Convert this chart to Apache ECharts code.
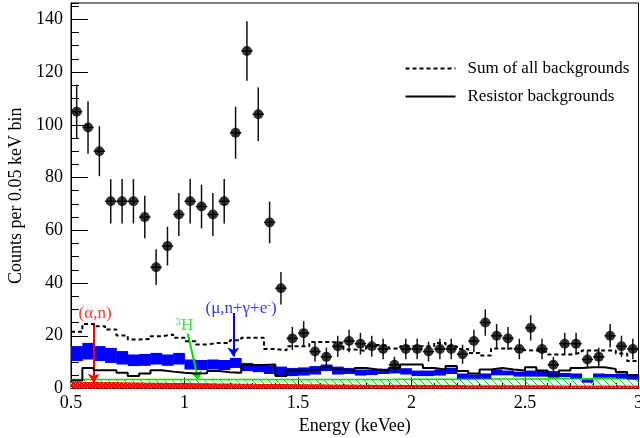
<!DOCTYPE html>
<html>
<head>
<meta charset="utf-8">
<script src="https://cdn.jsdelivr.net/npm/echarts@6/dist/echarts.min.js"></script>
<style>
html, body { margin: 0; padding: 0; background: #fff; }
#chart { width: 640px; height: 438px; }
</style>
</head>
<body>
<div id="chart"></div>
<script>
// Binning: 50 bins of 0.05 keVee from 0.5 to 3.0
const binStart = 0.5;
const binWidth = 0.05;

// Observed counts per bin
const counts = [105, 99, 90, 71, 71, 71, 65, 46, 54, 66,
                71, 69, 66, 71, 97, 128, 104, 63, 38, 19,
                21, 14, 12, 16, 18, 17, 16, 15, 9, 15,
                15, 14, 15, 15, 13, 18, 25, 20, 19, 15,
                23, 15, 9, 17, 17, 11, 12, 20, 16, 15];

// Sum of all backgrounds
const sumBackgrounds = [21.5, 24.5, 23.6, 22.4, 20.1, 18.6, 18.8, 19.8, 20.5, 19.2,
                        17.9, 16.7, 17.3, 17.3, 18.3, 19.2, 19.2, 15.0, 14.5, 16.0,
                        16.0, 17.6, 17.6, 17.3, 14.8, 14.2, 16.5, 16.3, 15.2, 16.0,
                        16.0, 16.0, 17.3, 16.0, 15.0, 13.5, 12.5, 15.2, 15.2, 14.5,
                        14.4, 13.9, 12.9, 12.9, 13.6, 14.4, 14.4, 14.4, 13.3, 10.4];

// Resistor backgrounds
const resistorBackgrounds = [3.0, 7.8, 6.9, 6.9, 6.0, 4.7, 5.7, 6.9, 6.4, 6.0,
                             5.7, 5.8, 6.6, 6.2, 6.0, 8.9, 8.9, 9.1, 4.7, 6.8,
                             6.8, 7.2, 8.1, 7.2, 6.8, 7.8, 7.2, 6.8, 7.8, 9.1,
                             9.1, 7.8, 7.2, 8.5, 6.6, 5.7, 7.2, 7.8, 7.2, 6.8,
                             8.1, 6.8, 4.9, 6.8, 7.8, 8.1, 8.1, 7.4, 6.3, 4.9];

// (mu,n + gamma + e-) band: lower and upper edges
const muBandLow = [10.4, 11.0, 10.4, 9.7, 9.1, 8.5, 8.6, 9.1, 8.6, 9.1,
                   7.2, 7.0, 7.2, 7.0, 7.8, 6.6, 6.2, 5.5, 5.1, 4.7,
                   4.9, 5.3, 6.6, 5.3, 5.5, 4.9, 5.1, 5.5, 5.7, 5.3,
                   4.7, 4.7, 4.9, 5.5, 3.7, 3.7, 3.7, 5.0, 5.0, 4.5,
                   4.5, 4.5, 4.1, 4.3, 3.8, 2.2, 4.1, 4.1, 3.8, 3.4];
const muBandHigh = [16.1, 17.3, 16.1, 15.4, 14.2, 12.9, 13.1, 13.5, 12.9, 13.5,
                    11.0, 10.8, 11.0, 10.8, 11.6, 9.7, 9.3, 8.7, 8.3, 7.8,
                    8.0, 8.5, 9.1, 8.3, 7.8, 7.2, 7.2, 7.5, 7.9, 7.7,
                    6.8, 6.8, 7.2, 7.9, 5.7, 5.3, 5.7, 7.2, 6.8, 6.4,
                    6.8, 6.6, 6.6, 5.9, 5.7, 3.4, 5.7, 5.5, 5.7, 5.5];

// (alpha,n) contribution and the 3H level drawn on top of it
const alphaN = [2.3, 2.3, 2.2, 2.2, 2.1, 2.1, 2.0, 2.0, 1.9, 1.9,
                1.8, 1.8, 1.7, 1.7, 1.6, 1.6, 1.5, 1.5, 1.5, 1.4,
                1.4, 1.4, 1.3, 1.3, 1.3, 1.2, 1.2, 1.2, 1.2, 1.1,
                1.1, 1.1, 1.1, 1.1, 1.0, 1.0, 1.0, 1.0, 1.0, 1.0,
                1.0, 1.0, 0.9, 0.9, 0.9, 0.9, 0.9, 0.9, 0.9, 0.9];
const tritiumTop = [3.4, 3.4, 3.4, 3.4, 3.4, 3.4, 3.4, 3.4, 3.4, 3.4,
                    3.4, 3.4, 3.4, 3.4, 3.4, 3.4, 3.4, 3.4, 3.4, 3.4,
                    3.4, 3.4, 3.4, 3.4, 3.4, 3.4, 3.4, 3.4, 3.5, 3.5,
                    3.5, 3.5, 3.5, 3.5, 3.5, 3.6, 3.6, 3.6, 3.6, 3.6,
                    3.6, 3.6, 3.7, 3.7, 3.7, 3.7, 3.7, 3.7, 3.7, 3.7];

// Axis ticks
const xTickStep = 0.5;
const yTickStep = 20;
const yMinorStep = 5;

// Legend entries
const legendEntries = [
  { text: 'Sum of all backgrounds', dash: [4, 3] },
  { text: 'Resistor backgrounds', dash: null }
];

// Annotation labels and arrows (data coordinates)
const annotations = [
  { name: 'alpha', pos: [0.606, 28.3], arrow: [[0.6, 24.8], [0.6, 2.2]], color: '#ff0000' },
  { name: 'tritium', pos: [1.0, 23.9], arrow: [[1.014, 20.9], [1.061, 3.2]], color: '#00e000' },
  { name: 'mu', pos: [1.249, 30.5], arrow: [[1.215, 28.6], [1.215, 12.1]], color: '#0000ff' }
];

const SERIF = 'Liberation Serif';
const edge = i => +(binStart + i * binWidth).toFixed(4);
const centre = i => +(binStart + (i + 0.5) * binWidth).toFixed(4);

function steps(arr) {
  const d = arr.map((v, i) => [edge(i), v]);
  d.push([edge(arr.length), arr[arr.length - 1]]);
  return d;
}
function bands(lo, hi) {
  return lo.map((v, i) => [edge(i), edge(i + 1), v, hi[i]]);
}
function pattern(w, h, draw) {
  const c = document.createElement('canvas');
  c.width = w; c.height = h;
  draw(c.getContext('2d'));
  return { image: c, repeat: 'repeat' };
}
const redChecker = pattern(4, 4, g => {
  g.fillStyle = '#ff0000'; g.fillRect(0, 0, 4, 4);
  g.fillStyle = '#ffffff'; g.fillRect(1, 1, 1, 1); g.fillRect(3, 3, 1, 1);
});
const greenHatch = pattern(8, 8, g => {
  g.fillStyle = '#00e000';
  for (let k = 0; k < 8; k++) g.fillRect(k, k, 1, 1);
});

function bandRenderer(fill) {
  return (params, api) => {
    const a = api.coord([api.value(0), api.value(3)]);
    const b = api.coord([api.value(1), api.value(2)]);
    return {
      type: 'rect',
      shape: { x: a[0], y: a[1], width: b[0] - a[0] + 0.4, height: b[1] - a[1] },
      style: { fill: fill }
    };
  };
}

// Data points with Poisson error bars and bin-width horizontal bars
function errorBarRenderer(params, api) {
  const x = api.value(0), y = api.value(1), e = Math.sqrt(y), hw = binWidth / 2;
  const top = api.coord([x, y + e]), bot = api.coord([x, y - e]);
  const l = api.coord([x - hw, y]), r = api.coord([x + hw, y]);
  return {
    type: 'group',
    children: [
      { type: 'line', shape: { x1: top[0], y1: top[1], x2: bot[0], y2: bot[1] }, style: { stroke: '#111', lineWidth: 1.5 } },
      { type: 'line', shape: { x1: l[0], y1: l[1], x2: r[0], y2: r[1] }, style: { stroke: '#111', lineWidth: 1.5 } }
    ]
  };
}

const labelText = {
  alpha: '{t|(\u03b1,n)}',
  tritium: '{s|3}{t|H}',
  mu: '{t|(\u03bc,n+\u03b3+e}{s|-}{t|)}'
};

// Legend drawn as graphic: line sample followed by its text
const legendGraphic = {
  type: 'group', left: 403, top: 60,
  children: legendEntries.flatMap((e, i) => [
    {
      type: 'line', shape: { x1: 0, y1: 10 + 28 * i, x2: 50, y2: 10 + 28 * i },
      style: { stroke: '#000', lineWidth: 2, lineDash: e.dash }
    },
    {
      type: 'text', x: 62, y: 10 + 28 * i,
      style: { text: e.text, fontFamily: SERIF, fontSize: 17, fill: '#000', verticalAlign: 'middle' }
    }
  ])
};

const chart = echarts.init(document.getElementById('chart'), null, { renderer: 'canvas' });

const yBase = {
  type: 'value', min: 0, max: 146.2, position: 'left',
  splitLine: { show: false }
};

chart.setOption({
  animation: false,
  backgroundColor: '#fff',
  grid: {
    left: 71, right: 1.5, top: 3, bottom: 49.5,
    show: true, borderColor: '#000', borderWidth: 1,
    containLabel: false, outerBoundsMode: 'none'
  },
  graphic: [legendGraphic],
  xAxis: {
    type: 'value', min: 0.5, max: 3, interval: xTickStep,
    axisLine: { show: true, lineStyle: { color: '#000', width: 1 } },
    axisTick: { show: true, inside: true, length: 11, lineStyle: { color: '#000' } },
    minorTick: { show: true, splitNumber: 5, length: 5.5, lineStyle: { color: '#000' } },
    splitLine: { show: false },
    axisLabel: { fontFamily: SERIF, fontSize: 18, color: '#000', margin: 6 },
    name: 'Energy (keVee)', nameLocation: 'middle', nameGap: 27,
    nameTextStyle: { fontFamily: SERIF, fontSize: 18, color: '#000' }
  },
  yAxis: [
    Object.assign({}, yBase, {
      interval: yTickStep,
      axisLine: { show: true, lineStyle: { color: '#000', width: 1 } },
      axisTick: { show: true, inside: true, length: 17, lineStyle: { color: '#000' } },
      axisLabel: { fontFamily: SERIF, fontSize: 18, color: '#000', margin: 8, showMaxLabel: false },
      name: 'Counts per 0.05 keV bin', nameLocation: 'middle', nameGap: 44,
      nameTextStyle: { fontFamily: SERIF, fontSize: 18, color: '#000' }
    }),
    Object.assign({}, yBase, {
      interval: yMinorStep, offset: 0,
      axisLine: { show: false },
      axisTick: { show: true, inside: true, length: 8, lineStyle: { color: '#000' } },
      axisLabel: { show: false }
    })
  ],
  series: [
    {
      name: 'alphaN', type: 'custom', renderItem: bandRenderer(redChecker),
      data: bands(alphaN.map(() => 0), alphaN), encode: { x: [0, 1], y: [2, 3] }, z: 1, silent: true
    },
    {
      name: 'tritium', type: 'custom', renderItem: bandRenderer(greenHatch),
      data: bands(alphaN, tritiumTop), encode: { x: [0, 1], y: [2, 3] }, z: 2, silent: true
    },
    {
      name: 'alphaNEdge', type: 'line', step: 'end', data: steps(alphaN), symbol: 'none',
      lineStyle: { color: '#ff0000', width: 1 }, z: 3, silent: true
    },
    {
      name: 'tritiumEdge', type: 'line', step: 'end', data: steps(tritiumTop), symbol: 'none',
      lineStyle: { color: '#00e000', width: 1.5 }, z: 3, silent: true
    },
    {
      name: 'muBand', type: 'custom', renderItem: bandRenderer('#0000ff'),
      data: bands(muBandLow, muBandHigh), encode: { x: [0, 1], y: [2, 3] }, z: 4, silent: true
    },
    {
      name: 'Resistor backgrounds', type: 'line', step: 'end', data: steps(resistorBackgrounds),
      symbol: 'none', lineStyle: { color: '#000', width: 2 }, z: 5, silent: true
    },
    {
      name: 'Sum of all backgrounds', type: 'line', step: 'end', data: steps(sumBackgrounds),
      symbol: 'none', lineStyle: { color: '#000', width: 2, type: [4, 3] }, z: 6, silent: true
    },
    {
      name: 'errors', type: 'custom', renderItem: errorBarRenderer,
      data: counts.map((c, i) => [centre(i), c]), encode: { x: 0, y: 1 }, z: 7, silent: true
    },
    {
      name: 'data', type: 'scatter', symbol: 'circle', symbolSize: 10,
      itemStyle: { color: '#000' }, data: counts.map((c, i) => [centre(i), c]), z: 8, silent: true
    },
    {
      name: 'annotations', type: 'scatter', symbolSize: 0, z: 9, silent: true,
      data: annotations.map(a => ({
        value: a.pos,
        label: {
          show: true, position: 'inside', formatter: labelText[a.name],
          rich: {
            t: { fontFamily: SERIF, fontSize: 17, color: a.color },
            s: { fontFamily: SERIF, fontSize: 11, color: a.color, verticalAlign: 'top' }
          }
        }
      })),
      markLine: {
        silent: true, symbol: ['none', 'arrow'], symbolSize: 9, animation: false,
        label: { show: false },
        data: annotations.map(a => [
          { coord: a.arrow[0], lineStyle: { color: a.color, width: 2, type: 'solid' } },
          { coord: a.arrow[1] }
        ])
      }
    }
  ]
});
</script>
</body>
</html>
